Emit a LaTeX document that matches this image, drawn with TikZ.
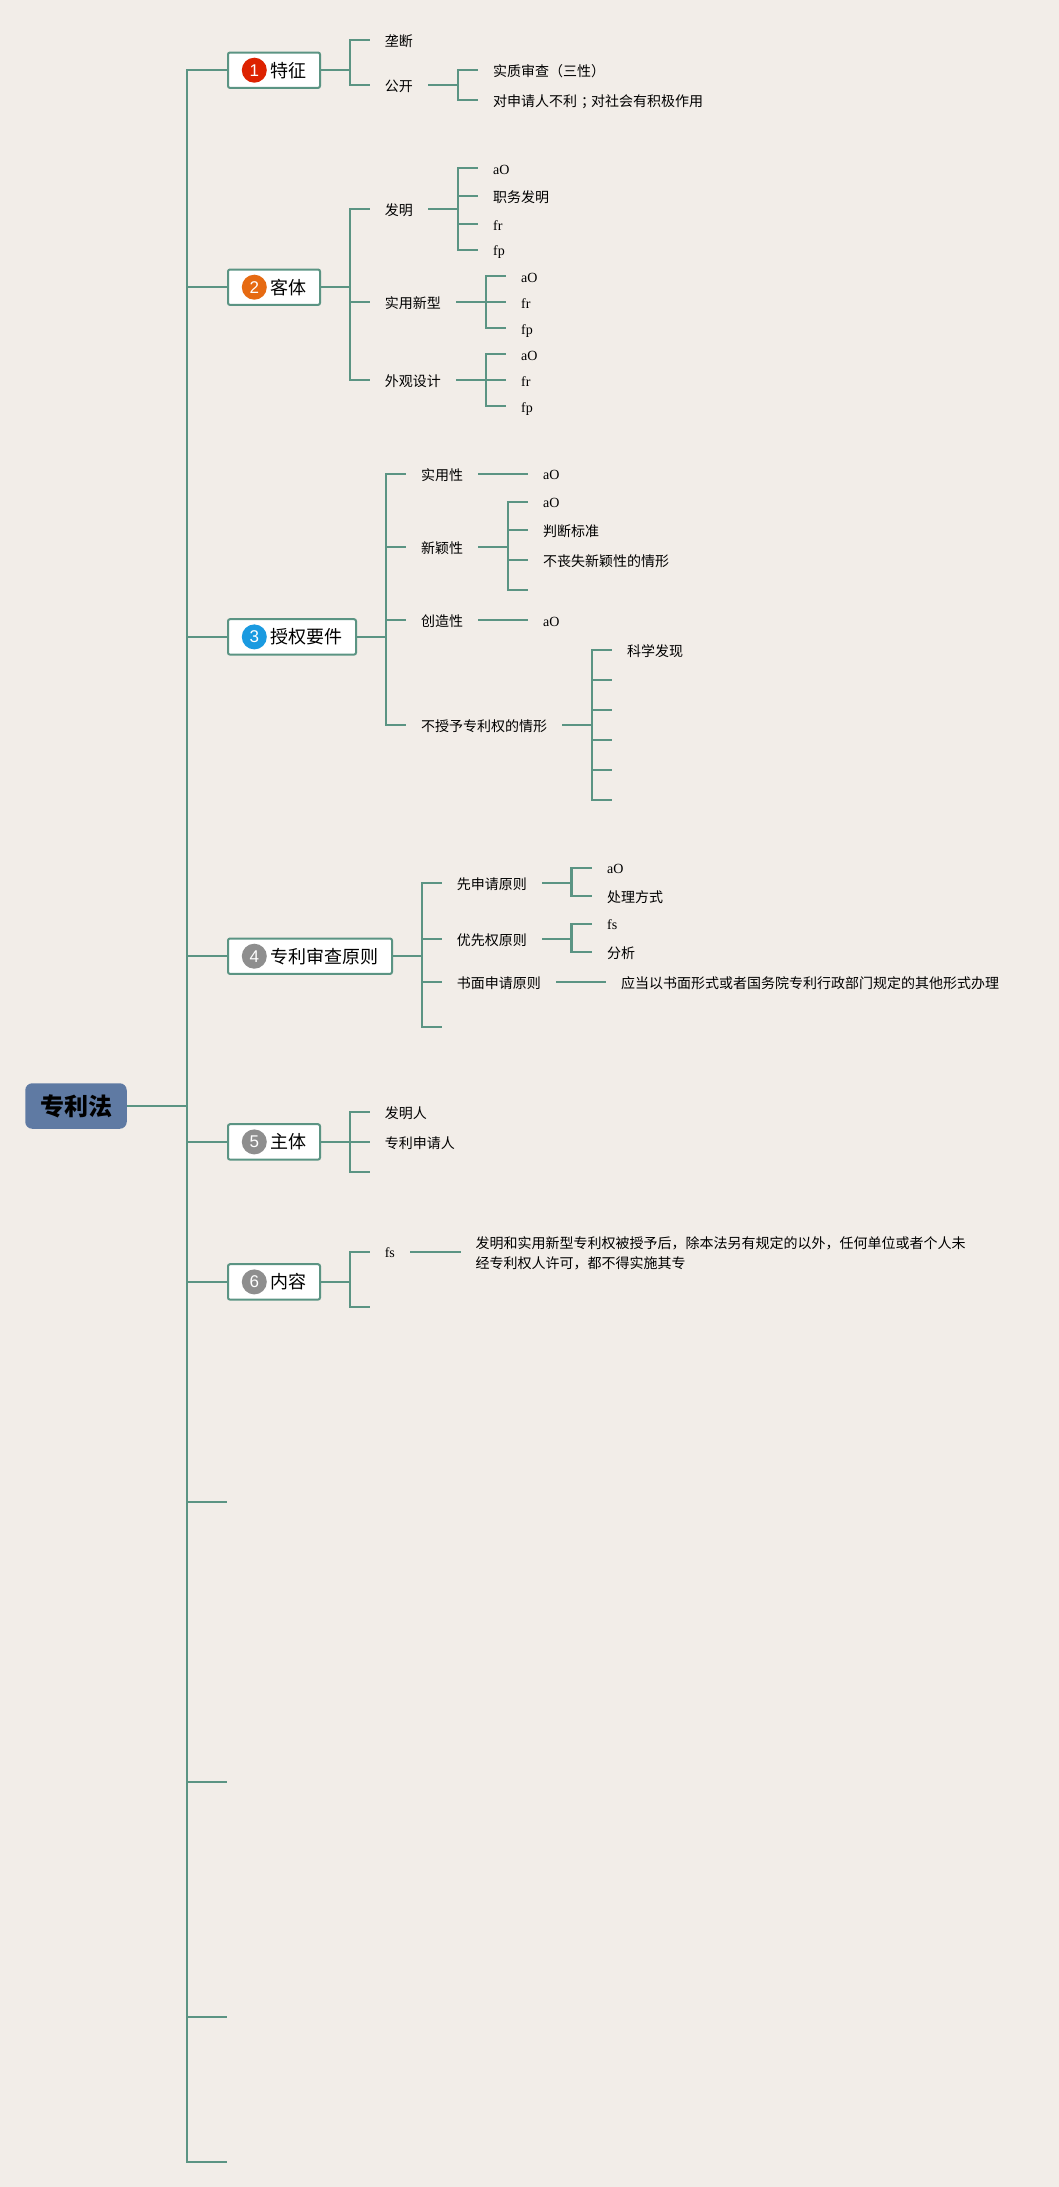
\documentclass[tikz,border=0pt]{standalone}
\usepackage{fontspec}
\setmainfont{Noto Sans CJK SC}
\newfontfamily\latf{Liberation Serif}
\newfontfamily\numf{Liberation Sans}
\definecolor{bg}{HTML}{F2EDE8}
\definecolor{lnk}{HTML}{5B9483}
\definecolor{rootc}{HTML}{5F7AA3}
\definecolor{cA}{HTML}{DD2200}
\definecolor{cB}{HTML}{E66A12}
\definecolor{cC}{HTML}{1A9AE0}
\definecolor{cD}{HTML}{8E8E8E}
\tikzset{
  x=1pt,y=-1pt,
  link/.style={draw=lnk,line width=2.2pt},
  leaf/.style={anchor=west,inner xsep=15pt,inner ysep=0pt,text height=13pt,text depth=0pt,font=\fontsize{14}{14}\selectfont,text=black},
  topic/.style={anchor=west,draw=lnk,line width=2pt,fill=white,rounded corners=2pt,minimum height=35.4pt,inner xsep=0pt,inner ysep=0pt,font=\fontsize{18}{18}\selectfont,text=black},
  badge/.style={circle,minimum size=25pt,inner sep=0pt,text=white,font=\numf\fontsize{17}{17}\selectfont},
  rootbox/.style={anchor=center,fill=rootc,rounded corners=7pt,minimum width=101.5pt,minimum height=45.5pt,inner sep=0pt,font=\fontsize{24}{24}\selectfont\bfseries,text=black},
}
\newcommand{\tpc}[1]{\hspace*{42.3pt}\raisebox{-1pt}{#1}\hspace*{13.7pt}}
\newcommand{\lt}[1]{\raisebox{0.5pt}{\latf #1}}
\begin{document}
\begin{tikzpicture}
\useasboundingbox[fill=bg] (0,0) rectangle (1059,2187);
% trunk and root
\node[rootbox] (root) at (76,1106) {\raisebox{-3.2pt}{专利法}};
\coordinate (T) at (187,0);
% free ends of the trunk
\coordinate (e7) at (226.8,1502);
\coordinate (e8) at (226.8,1781.7);
\coordinate (e9) at (226.8,2016.7);
\coordinate (e10) at (226.8,2162);
% topics
\node[topic] (t1) at (227,70.2) {\tpc{特征}};
\node[topic] (t2) at (227,287.2) {\tpc{客体}};
\node[topic] (t3) at (227,636.9) {\tpc{授权要件}};
\node[topic] (t4) at (227,956.2) {\tpc{专利审查原则}};
\node[topic] (t5) at (227,1141.9) {\tpc{主体}};
\node[topic] (t6) at (227,1281.9) {\tpc{内容}};
\node[badge,fill=cA] (b1) at (254.3,70.2) {1};
\node[badge,fill=cB] (b2) at (254.3,287.2) {2};
\node[badge,fill=cC] (b3) at (254.3,636.9) {3};
\node[badge,fill=cD] (b4) at (254.3,956.2) {4};
\node[badge,fill=cD] (b5) at (254.3,1141.9) {5};
\node[badge,fill=cD] (b6) at (254.3,1281.9) {6};
\draw[link] (root.east) -- (root.east -| T);
\draw[link] (e10) -| (T |- t1.west) -- (t1.west);
\foreach \c in {t2.west,t3.west,t4.west,t5.west,t6.west,e7,e8,e9}
  \draw[link] (T |- \c) -- (\c);
% --- 1
\coordinate (J1) at (350,0);
\node[leaf] (a1) at (369.6,39.7) {垄断};
\node[leaf] (a2) at (369.6,85) {公开};
\foreach \c in {a1,a2} \draw[link] (t1.east) -- (t1.east -| J1) |- (\c.west);
\coordinate (J11) at (457.8,0);
\node[leaf] (a21) at (478,69.7) {实质审查（三性）};
\node[leaf] (a22) at (478,99.7) {对申请人不利\kern4pt；\kern-4pt 对社会有积极作用};
\foreach \c in {a21,a22} \draw[link] (a2.east) -- (a2.east -| J11) |- (\c.west);
% --- 2
\node[leaf] (c1) at (369.6,209) {发明};
\node[leaf] (c2) at (369.6,302) {实用新型};
\node[leaf] (c3) at (369.6,380) {外观设计};
\foreach \c in {c1,c2,c3} \draw[link] (t2.east) -- (t2.east -| J1) |- (\c.west);
\node[leaf] (c11) at (478,168) {\lt{aO}};
\node[leaf] (c12) at (478,195.7) {职务发明};
\node[leaf] (c13) at (478,224) {\lt{fr}};
\node[leaf] (c14) at (478,249.7) {\lt{fp}};
\foreach \c in {c11,c12,c13,c14} \draw[link] (c1.east) -- (c1.east -| J11) |- (\c.west);
\coordinate (J21) at (485.8,0);
\node[leaf] (c21) at (506,276) {\lt{aO}};
\node[leaf] (c22) at (506,302) {\lt{fr}};
\node[leaf] (c23) at (506,328) {\lt{fp}};
\foreach \c in {c21,c22,c23} \draw[link] (c2.east) -- (c2.east -| J21) |- (\c.west);
\node[leaf] (c31) at (506,354) {\lt{aO}};
\node[leaf] (c32) at (506,380) {\lt{fr}};
\node[leaf] (c33) at (506,406) {\lt{fp}};
\foreach \c in {c31,c32,c33} \draw[link] (c3.east) -- (c3.east -| J21) |- (\c.west);
% --- 3
\coordinate (J3) at (386,0);
\node[leaf] (d1) at (406,473.7) {实用性};
\node[leaf] (d2) at (406,547) {新颖性};
\node[leaf] (d3) at (406,620) {创造性};
\node[leaf] (d4) at (406,725) {不授予专利权的情形};
\foreach \c in {d1,d2,d3,d4} \draw[link] (t3.east) -- (t3.east -| J3) |- (\c.west);
\node[leaf] (d11) at (527.9,473.7) {\lt{aO}};
\draw[link] (d1.east) -- (d11.west);
\coordinate (J32) at (507.9,0);
\node[leaf] (d21) at (527.9,501.7) {\lt{aO}};
\node[leaf] (d22) at (527.9,529.7) {判断标准};
\node[leaf] (d23) at (527.9,559.7) {不丧失新颖性的情形};
\coordinate (d24) at (527.9,590);
\foreach \c in {d21.west,d22.west,d23.west,d24} \draw[link] (d2.east) -- (d2.east -| J32) |- (\c);
\node[leaf] (d31) at (527.9,620) {\lt{aO}};
\draw[link] (d3.east) -- (d31.west);
\coordinate (J34) at (591.8,0);
\node[leaf] (d41) at (612,650) {科学发现};
\coordinate (d42) at (612,679.7);
\coordinate (d43) at (612,709.7);
\coordinate (d44) at (612,739.7);
\coordinate (d45) at (612,769.7);
\coordinate (d46) at (612,800);
\foreach \c in {d41.west,d42,d43,d44,d45,d46} \draw[link] (d4.east) -- (d4.east -| J34) |- (\c);
% --- 4
\coordinate (J4) at (422,0);
\node[leaf] (f1) at (441.6,882.7) {先申请原则};
\node[leaf] (f2) at (441.6,938.7) {优先权原则};
\node[leaf] (f3) at (441.6,981.7) {书面申请原则};
\coordinate (f4) at (441.6,1027);
\foreach \c in {f1.west,f2.west,f3.west,f4} \draw[link] (t4.east) -- (t4.east -| J4) |- (\c);
\coordinate (J41) at (571.5,0);
\node[leaf] (f11) at (592,867.7) {\lt{aO}};
\node[leaf] (f12) at (592,895.7) {处理方式};
\foreach \c in {f11,f12} \draw[link] (f1.east) -- (f1.east -| J41) |- (\c.west);
\node[leaf] (f21) at (592,923.7) {\lt{fs}};
\node[leaf] (f22) at (592,951.7) {分析};
\foreach \c in {f21,f22} \draw[link] (f2.east) -- (f2.east -| J41) |- (\c.west);
\node[leaf] (f31) at (606,981.7) {应当以书面形式或者国务院专利行政部门规定的其他形式办理};
\draw[link] (f3.east) -- (f31.west);
% --- 5
\node[leaf] (g1) at (369.6,1111.7) {发明人};
\node[leaf] (g2) at (369.6,1141.7) {专利申请人};
\coordinate (g3) at (369.6,1172);
\foreach \c in {g1.west,g2.west,g3} \draw[link] (t5.east) -- (t5.east -| J1) |- (\c);
% --- 6
\node[leaf] (k1) at (369.6,1251.7) {\lt{fs}};
\coordinate (k2) at (369.6,1307);
\foreach \c in {k1.west,k2} \draw[link] (t6.east) -- (t6.east -| J1) |- (\c);
\node[anchor=west,inner xsep=15pt,inner ysep=0pt,align=left,font=\fontsize{14}{20}\selectfont,text=black] (k11) at (460.5,1253.5) {发明和实用新型专利权被授予后，除本法另有规定的以外，任何单位或者个人未\\经专利权人许可，都不得实施其专};
\draw[link] (k1.east) -- (k1.east -| k11.west);
\end{tikzpicture}
\end{document}
